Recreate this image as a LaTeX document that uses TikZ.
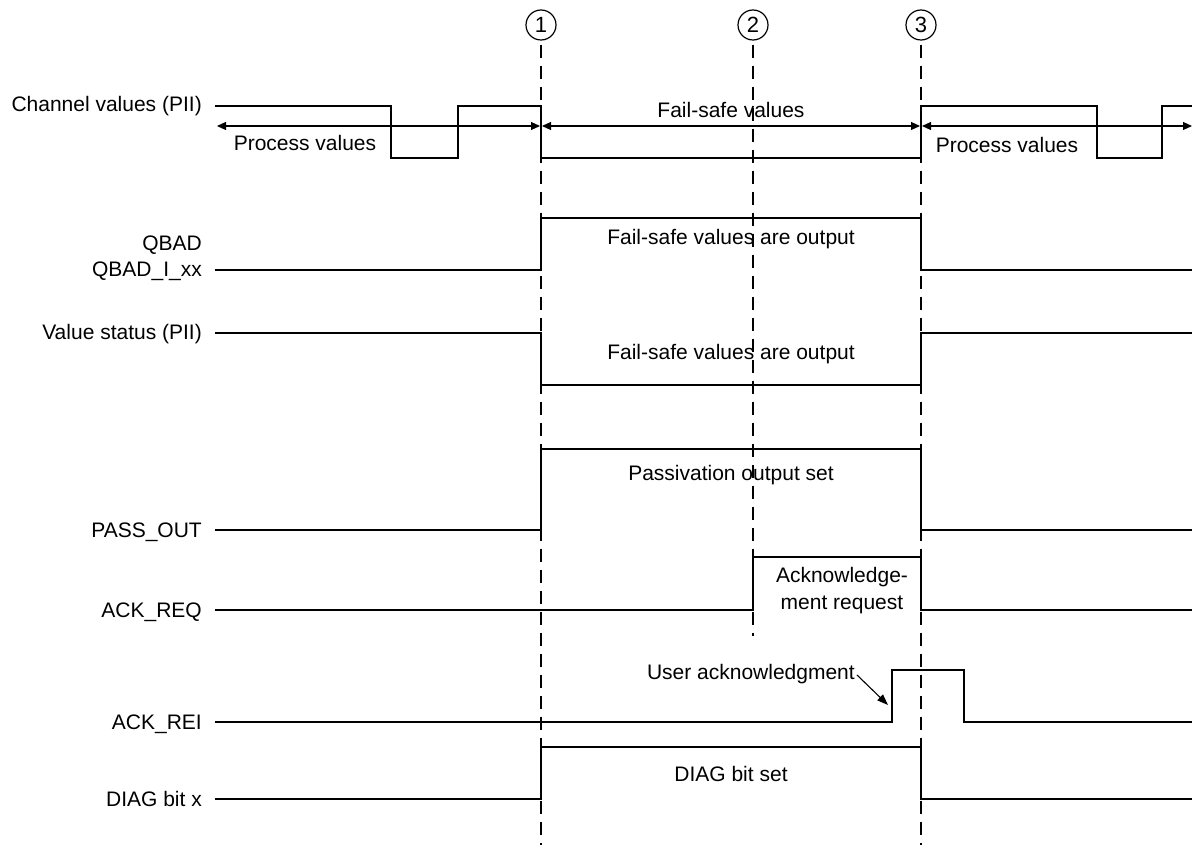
\documentclass[tikz,border=0pt]{standalone}
\usepackage{fontspec}
\setmainfont{Liberation Sans}
\usetikzlibrary{arrows.meta}
\begin{document}
\begin{tikzpicture}[x=1pt,y=-1pt,
  lbl/.style={font=\fontsize{21}{26}\selectfont, inner sep=0pt, text height=15pt, text depth=0pt},
  sig/.style={line width=2.4pt, line join=miter},
  guide/.style={line width=1.1pt, dash pattern=on 13pt off 8pt},
  dim/.style={line width=1.1pt, {Triangle[length=9pt,width=8pt]}-{Triangle[length=9pt,width=8pt]}},
  num/.style={draw, circle, line width=1.2pt, minimum size=30pt, inner sep=0pt, font=\fontsize{22}{26}\selectfont}]
\useasboundingbox (0,0) rectangle (1192,845);
% markers
\node[num] (n1) at (541,25) {1};
\node[num] (n2) at (753,25) {2};
\node[num] (n3) at (921,25) {3};
\coordinate (e1) at (541,845);
\coordinate (e2) at (753,636);
\coordinate (e3) at (921,845);
\draw[guide] (n1.south) ++(0,4) -- (e1);
\draw[guide] (n2.south) ++(0,4) -- (e2);
\draw[guide] (n3.south) ++(0,4) -- (e3);
% labels
\node[lbl, anchor=east] (l1) at (202,104) {Channel values (PII)};
\node[lbl, anchor=east] (l2a) at (202,243) {QBAD};
\node[lbl, anchor=east] (l2) at (202,269) {QBAD\_I\_xx};
\node[lbl, anchor=east] (l3) at (202,332) {Value status (PII)};
\node[lbl, anchor=east] (l4) at (202,530) {PASS\_OUT};
\node[lbl, anchor=east] (l5) at (202,610) {ACK\_REQ};
\node[lbl, anchor=east] (l6) at (202,722) {ACK\_REI};
\node[lbl, anchor=east] (l7) at (202,799) {DIAG bit x};
% channel values
\draw[sig] (215,106) -- (391,106) -- (391,158) -- (458,158) -- (458,106) -- (541,106) -- (541,158) -- (921,158) -- (921,106) -- (1097,106) -- (1097,158) -- (1162,158) -- (1162,106) -- (1192,106);
\coordinate (a0) at (217,126);
\coordinate (a1) at (540,126);
\coordinate (a2) at (542,126);
\coordinate (a3) at (920,126);
\coordinate (a4) at (922,126);
\coordinate (a5) at (1192,126);
\draw[dim] (a0) -- (a1);
\draw[dim] (a2) -- (a3);
\draw[dim] (a4) -- (a5);
\node[lbl] (pv1) at (305,143) {Process values};
\node[lbl] (fsv) at (731,110) {Fail-safe values};
\node[lbl] (pv2) at (1007,145) {Process values};
% QBAD
\draw[sig] (215,270) -- (541,270) -- (541,218) -- (921,218) -- (921,270) -- (1192,270);
\node[lbl] (t2) at (731,237) {Fail-safe values are output};
% value status
\draw[sig] (215,333) -- (541,333) -- (541,385) -- (921,385) -- (921,333) -- (1192,333);
\node[lbl] (t3) at (731,352) {Fail-safe values are output};
% PASS_OUT
\draw[sig] (215,530) -- (541,530) -- (541,449) -- (921,449) -- (921,530) -- (1192,530);
\node[lbl] (t4) at (731,473) {Passivation output set};
% ACK_REQ
\draw[sig] (215,610) -- (753,610) -- (753,557) -- (921,557) -- (921,610) -- (1192,610);
\node[lbl] (t5a) at (842,575) {Acknowledge-};
\node[lbl] (t5b) at (842,602) {ment request};
% ACK_REI
\draw[sig] (215,722) -- (892,722) -- (892,670) -- (964,670) -- (964,722) -- (1192,722);
\node[lbl, anchor=east] (t6) at (855,672) {User acknowledgment};
\coordinate (ua) at (888,705);
\draw[line width=1.1pt, -{Triangle[length=11pt,width=8pt]}] (t6.east) ++(2,3) -- (ua);
% DIAG
\draw[sig] (215,799) -- (541,799) -- (541,747) -- (921,747) -- (921,799) -- (1192,799);
\node[lbl] (t7) at (731,774) {DIAG bit set};
\end{tikzpicture}
\end{document}
